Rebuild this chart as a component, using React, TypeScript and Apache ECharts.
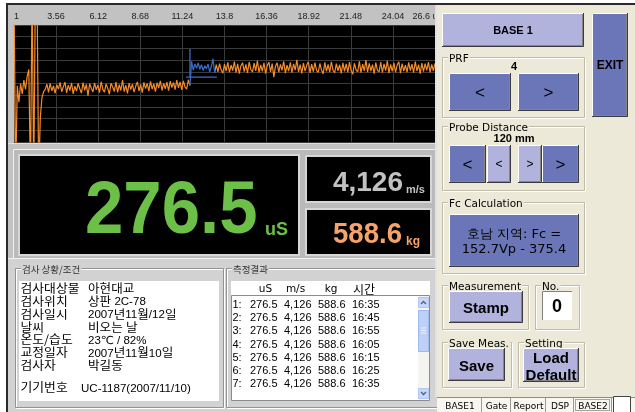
import React, { useEffect, useRef } from 'react';
import * as echarts from 'echarts';

// ---------- data ----------
const TICK_LABELS = ['1', '3.56', '6.12', '8.68', '11.24', '13.8', '16.36', '18.92', '21.48', '24.04', '26.6 uS'];
const TICK_STEP = 2.56;
const T_ORIGIN = 1;
const X_SCALE = 100; // axis works in hundredths of a unit to keep ticks exact
const SAMPLE_STEP = 0.1;

const ORANGE_A_START = 1.0;
const ORANGE_A = [
  13, -3, 4.8, 3.4, 5.0, 4.1, 5.3, 4.5, 5.6, 6.2, -3, 13, -3, 13, 13, -3, 2.1, 3.8, 4.3, 4.5,
  4.95, 4.25, 5.02, 4.38, 4.80, 4.15, 4.90, 4.52, 5.10, 4.30,
  4.71, 5.12, 4.20, 4.86, 4.40, 5.05, 4.12, 4.78, 4.35, 5.00,
  4.55, 4.18, 5.08, 4.42, 4.92, 3.95, 4.98, 4.60, 4.28, 5.06,
  4.45, 4.88, 4.22, 5.15, 4.50, 4.26, 4.96, 4.58, 4.08, 5.03,
  4.70, 4.32, 5.11, 4.24, 4.90, 4.40, 5.30, 4.30, 4.85, 4.16,
  5.04, 4.48, 4.95, 4.26, 4.76, 5.14, 4.36, 4.92, 4.22, 5.09,
  4.56, 5.00, 4.34, 5.18, 4.52, 4.97, 4.30, 5.06, 4.62, 5.22,
  4.40, 5.02, 4.55, 5.12, 4.38, 5.20, 4.66, 5.08, 4.48, 5.28,
  4.62, 5.13, 4.46, 5.22, 4.70, 4.52, 5.32, 4.82,
];
const BLUE_START = 11.7;
const BLUE = [4.82, 6.9, 6.15, 6.68, 6.3, 6.75, 6.22, 6.6, 6.1, 6.52, 6.26, 6.66, 6.0, 6.45, 7.12, 5.92];
const ORANGE_B_START = 13.2;
const ORANGE_B = [
  5.92, 6.62, 6.00, 6.70, 6.15, 5.88, 6.66, 6.05, 6.80, 5.96,
  6.58, 6.10, 6.88, 5.92, 6.68, 5.85, 6.52, 6.78, 6.02, 6.64,
  5.90, 6.84, 6.20, 5.98, 6.74, 6.08, 6.95, 5.94, 6.60, 6.04,
  6.76, 5.84, 6.55, 6.82, 6.00, 6.70, 5.55, 6.48, 6.77, 5.96,
  6.63, 6.12, 6.90, 5.89, 6.57, 6.05, 6.80, 5.93, 6.68, 6.14,
  7.02, 5.98, 6.62, 5.86, 6.74, 6.06, 6.55, 6.85, 5.91, 6.66,
  6.02, 6.78, 6.10, 5.95, 6.71, 6.15, 5.83, 6.80, 6.04, 6.64,
  5.98, 6.86, 6.12, 5.92, 6.70, 6.08, 6.60, 5.87, 6.77, 6.03,
  6.67, 5.95, 6.82, 6.11, 5.80, 6.73, 6.16, 6.00, 6.89, 5.92,
  6.65, 6.08, 7.00, 5.97, 6.72, 6.05, 6.61, 5.85, 6.79, 6.12,
  5.99, 6.83, 5.93, 6.68, 6.10, 6.94, 5.89, 6.63, 6.04, 6.76,
  5.96, 6.58, 6.85, 5.88, 6.70, 6.06, 6.56, 5.98, 6.80, 6.11,
  6.66, 5.92, 6.88, 6.07, 6.62, 5.84, 6.75, 6.01, 6.69, 6.13,
  6.82, 5.95, 6.64, 6.09, 6.72,
];
const GATE_START = 11.46;
const GATE_END = 13.34;
const GATE_LEVEL = 5.55;
const GATE_MARK_T = 11.7;
const GATE_MARK_TOP = 7.95;

const READOUT_VALUES = ['276.5', '4,126', '588.6'];
const READOUT_UNITS = ['uS', 'm/s', 'kg'];

const INFO_LABELS = ['검사대상물', '검사위치', '검사일시', '날씨', '온도/습도', '교정일자', '검사자', '기기번호'];
const INFO_VALUES = ['아현대교', '상판 2C-78', '2007년11월/12일', '비오는 날', '23℃ / 82%', '2007년11월10일', '박길동', 'UC-1187(2007/11/10)'];

const TABLE_HEADERS = ['uS', 'm/s', 'kg', '시간'];
const ROW_US = ['276.5', '276.5', '276.5', '276.5', '276.5', '276.5', '276.5'];
const ROW_MS = ['4,126', '4,126', '4,126', '4,126', '4,126', '4,126', '4,126'];
const ROW_KG = ['588.6', '588.6', '588.6', '588.6', '588.6', '588.6', '588.6'];
const ROW_TIME = ['16:35', '16:45', '16:55', '16:05', '16:15', '16:25', '16:35'];

const PRF_VALUE = '4';
const PROBE_DISTANCE = '120 mm';
const FC_FORMULA = ['호남 지역: Fc =', '152.7Vp - 375.4'];
const STAMP_NO = '0';
const TABS = ['BASE1', 'Gate', 'Report', 'DSP', 'BASE2'];

// ---------- styling helpers ----------
const LAT = '"Liberation Sans", Arial, "DejaVu Sans", sans-serif';
const DJ = '"DejaVu Sans", Verdana, sans-serif';
const KR = '"Noto Sans CJK KR", sans-serif';
const DARK_BTN = '#6a76b8';
const LIGHT_BTN = '#b1b3dc';
const PANEL = '#ece9d8';

const rect = (x: number, y: number, w: number, h: number, fill: any, stroke: any = null, lw = 1) => ({
  type: 'rect', shape: { x, y, width: w, height: h }, style: { fill, stroke, lineWidth: lw },
});
const ln = (x1: number, y1: number, x2: number, y2: number, stroke: string, lw = 1) => ({
  type: 'line', shape: { x1, y1, x2, y2 }, style: { stroke, lineWidth: lw },
});
const poly = (points: number[][], stroke: string, lw = 1) => ({
  type: 'polyline', shape: { points }, style: { stroke, fill: null, lineWidth: lw },
});
const txt = (x: number, y: number, s: string, size: number, o: any = {}) => ({
  type: 'text', x, y, scaleX: o.scaleX ?? 1,
  style: {
    text: s, fill: o.fill ?? '#000', fontSize: size, fontFamily: o.family ?? LAT,
    fontWeight: o.weight ?? 'normal', align: o.align ?? 'left', verticalAlign: o.va ?? 'middle',
    backgroundColor: o.bg, padding: o.pad, rich: o.rich, lineHeight: o.lh,
  },
});

function button(x: number, y: number, w: number, h: number, fill: string) {
  return [
    rect(x, y, w, h, fill),
    poly([[x + 0.5, y + h - 1], [x + 0.5, y + 0.5], [x + w - 1, y + 0.5]], '#ffffff'),
    poly([[x, y + h - 0.5], [x + w - 0.5, y + h - 0.5], [x + w - 0.5, y]], '#3c3c3c'),
    poly([[x + 1, y + h - 1.5], [x + w - 1.5, y + h - 1.5], [x + w - 1.5, y + 1]], '#858585'),
  ];
}

function groupBox(x: number, y: number, w: number, h: number, label: string, bg: string, dark: string, lab: any = {}) {
  return [
    rect(x + 1.5, y + 1.5, w, h, null, '#ffffff'),
    rect(x + 0.5, y + 0.5, w, h, null, dark),
    txt(x + 6, y + 1, label, lab.size ?? 10.5, { family: lab.family ?? DJ, bg, pad: [0, 1], fill: lab.fill ?? '#000', lh: 12 }),
  ];
}

function toRich(s: string) {
  const runs = s.match(/[\uAC00-\uD7A3]+|[^\uAC00-\uD7A3]+/g) || [];
  return runs.map((r) => (/[\uAC00-\uD7A3]/.test(r) ? `{k|${r}}` : `{n|${r}}`)).join('');
}

const toX = (t: number) => Math.round((t - T_ORIGIN) * X_SCALE);
const pts = (start: number, vals: number[]) => vals.map((v, i) => [toX(start + i * SAMPLE_STEP), v]);

function buildOption() {
  const back: any[] = [];
  const front: any[] = [];
  let g = back;
  // page + window frame
  g.push(rect(0, 0, 635, 412, '#ffffff'));
  g.push(rect(7, 4, 430, 408, '#c2c2c2'));
  g.push(rect(6, 3, 629, 2, '#2a2a2a'));
  g.push(rect(6, 3, 2, 409, '#2a2a2a'));
  // plot background
  g.push(rect(14, 25, 421, 117, '#000000'));
  g.push(ln(8, 143.5, 437, 143.5, '#e0e0e0'));

  // readout frame
  g.push(rect(13, 149, 423, 109, '#bababa'));
  g.push(poly([[13.5, 258], [13.5, 149.5], [436, 149.5]], '#f0f0f0'));
  g.push(rect(19, 155, 280, 100, '#000000', '#d6d6d6', 2));
  g.push(rect(306, 156, 125, 46, '#000000', '#d6d6d6', 2));
  g.push(rect(306, 209, 125, 46, '#000000', '#d6d6d6', 2));
  g.push(txt(85, 206.5, READOUT_VALUES[0], 75, { weight: 'bold', fill: '#6cbf47', scaleX: 0.92 }));
  g.push(txt(265, 228.5, READOUT_UNITS[0], 18, { weight: 'bold', fill: '#6cbf47' }));
  g.push(txt(403, 181, READOUT_VALUES[1], 28, { weight: 'bold', fill: '#c2c2c2', align: 'right' }));
  g.push(txt(406, 189, READOUT_UNITS[1], 11, { weight: 'bold', fill: '#c2c2c2' }));
  g.push(txt(402, 233, READOUT_VALUES[2], 30, { weight: 'bold', fill: '#f5a36b', align: 'right', scaleX: 0.92 }));
  g.push(txt(406, 241, READOUT_UNITS[2], 12, { weight: 'bold', fill: '#f5a36b' }));

  // bottom-left section
  g.push(rect(8, 259, 429, 153, '#d2d2d2'));
  g.push(ln(8, 258.5, 437, 258.5, '#f2f2f2'));
  g.push(...groupBox(15, 268, 208, 139, '검사 상황/조건', '#d2d2d2', '#939393', { family: KR, size: 9.5, fill: '#333' }));
  g.push(...groupBox(226, 268, 215, 139, '측정결과', '#d2d2d2', '#939393', { family: KR, size: 9.5, fill: '#333' }));
  g.push(rect(19, 281, 200, 120, '#ffffff'));
  const infoY = [288, 301, 314, 327, 339.5, 352.5, 365, 387.5];
  const rich = {
    k: { fontFamily: KR, fontSize: 12, fill: '#000', verticalAlign: 'bottom', lineHeight: 12 },
    n: { fontFamily: LAT, fontSize: 11, fill: '#000', verticalAlign: 'bottom', lineHeight: 12 },
  };
  INFO_LABELS.forEach((l, i) => {
    g.push(txt(20.5, infoY[i], l, 12, { family: KR, lh: 12, scaleX: 1.07 }));
    g.push(txt(i === 7 ? 81 : 88, infoY[i], toRich(INFO_VALUES[i]), 12, { family: KR, rich, lh: 12, scaleX: 1.05 }));
  });

  // results list
  g.push(rect(231, 281, 199, 14, '#ffffff'));
  const hx = [265.5, 295.5, 331, 364];
  TABLE_HEADERS.forEach((h, i) => {
    const kr = /[\uAC00-\uD7A3]/.test(h);
    g.push(txt(hx[i], 288, h, kr ? 12 : 10.5, { family: kr ? KR : DJ, align: 'center', lh: 12 }));
  });
  g.push(rect(231.5, 295.5, 198, 105, '#ffffff', '#8c8c8c'));
  ROW_US.forEach((_, i) => {
    const y = 304.3 + i * 13.07;
    g.push(txt(232.5, y, `${i + 1}:`, 11, { lh: 12 }));
    g.push(txt(250, y, ROW_US[i], 11, { lh: 12 }));
    g.push(txt(284, y, ROW_MS[i], 11, { lh: 12 }));
    g.push(txt(318, y, ROW_KG[i], 11, { lh: 12 }));
    g.push(txt(352, y, ROW_TIME[i], 11, { lh: 12 }));
  });
  // scrollbar
  g.push(rect(418, 296, 11, 104, '#f4f4f0'));
  g.push(rect(418.5, 297.5, 10, 10, '#c8d7fb', '#b2c6f2'));
  g.push(poly([[421, 304], [423.5, 301.5], [426, 304]], '#4d6185', 1.3));
  g.push(rect(418.5, 310.5, 10, 41, '#bdd0f8', '#9fb8ee'));
  [328, 330.5, 333].forEach((y) => g.push(ln(421, y, 426, y, '#eef3fe')));
  g.push(rect(418.5, 388.5, 10, 10, '#c8d7fb', '#b2c6f2'));
  g.push(poly([[421, 392], [423.5, 394.5], [426, 392]], '#4d6185', 1.3));

  // right panel (drawn above the axis so the last tick label is cut like the reference)
  g = front;
  g.push(rect(437, 5, 198, 393, PANEL));
  g.push(rect(435, 5, 2, 392, '#e2e2e2'));
  g.push(...button(442, 13, 142, 34, LIGHT_BTN));
  g.push(txt(513, 30, 'BASE 1', 11, { weight: 'bold', align: 'center' }));
  g.push(...button(592, 13, 36, 104, DARK_BTN));
  g.push(txt(610, 65, 'EXIT', 12, { weight: 'bold', align: 'center' }));

  const gb = '#bfbbaa';
  g.push(...groupBox(442, 57, 142, 60, 'PRF', PANEL, gb));
  g.push(txt(514, 66, PRF_VALUE, 11, { weight: 'bold', align: 'center' }));
  g.push(...button(449, 73, 62, 38, DARK_BTN));
  g.push(txt(480, 92, '<', 17, { align: 'center' }));
  g.push(...button(518, 73, 61, 38, DARK_BTN));
  g.push(txt(548.5, 92, '>', 17, { align: 'center' }));

  g.push(...groupBox(442, 126, 142, 64, 'Probe Distance', PANEL, gb));
  g.push(txt(514, 138, PROBE_DISTANCE, 11, { weight: 'bold', align: 'center' }));
  g.push(...button(449, 145, 37, 38, DARK_BTN));
  g.push(txt(467.5, 164, '<', 17, { align: 'center' }));
  g.push(...button(487, 145, 24, 38, LIGHT_BTN));
  g.push(txt(499, 164, '<', 12, { align: 'center' }));
  g.push(...button(518, 145, 24, 38, LIGHT_BTN));
  g.push(txt(530, 164, '>', 12, { align: 'center' }));
  g.push(...button(542, 145, 37, 38, DARK_BTN));
  g.push(txt(560.5, 164, '>', 17, { align: 'center' }));

  g.push(...groupBox(442, 202, 142, 71, 'Fc Calculation', PANEL, gb));
  g.push(...button(449, 214, 130, 53, DARK_BTN));
  g.push(txt(514, 233, FC_FORMULA[0], 13, { family: DJ, align: 'center' }));
  g.push(txt(514, 248.5, FC_FORMULA[1], 13, { family: DJ, align: 'center' }));

  g.push(...groupBox(442, 285, 86, 44, 'Measurement', PANEL, gb));
  g.push(...button(449, 291, 74, 32, LIGHT_BTN));
  g.push(txt(486, 307.5, 'Stamp', 15, { weight: 'bold', align: 'center' }));
  g.push(...groupBox(535, 285, 44, 44, 'No.', PANEL, gb));
  g.push(rect(542, 291, 30, 29, '#ffffff'));
  g.push(poly([[542.5, 320], [542.5, 291.5], [572, 291.5]], '#808080'));
  g.push(txt(557, 306, STAMP_NO, 18, { weight: 'bold', align: 'center' }));

  g.push(...groupBox(442, 342, 69, 45, 'Save Meas.', PANEL, gb));
  g.push(...button(448, 348, 57, 33, LIGHT_BTN));
  g.push(txt(476.5, 365, 'Save', 15, { weight: 'bold', align: 'center' }));
  g.push(...groupBox(518, 342, 66, 45, 'Setting', PANEL, gb));
  g.push(...button(523, 348, 56, 34, LIGHT_BTN));
  g.push(txt(551, 357, 'Load', 15, { weight: 'bold', align: 'center', lh: 16 }));
  g.push(txt(551, 374, 'Default', 15, { weight: 'bold', align: 'center', lh: 16 }));

  // tabs
  g.push(rect(437, 397, 198, 15, '#f7f6f1'));
  g.push(ln(437, 397.5, 635, 397.5, '#8c8c8c'));
  const tabEdges = [437, 481, 510, 545, 573, 611];
  tabEdges.slice(1).forEach((x) => g.push(ln(x + 0.5, 398, x + 0.5, 412, '#9a9a9a')));
  TABS.forEach((t, i) => g.push(txt((tabEdges[i] + tabEdges[i + 1]) / 2 + 1, 405.5, t, 9, { family: DJ, align: 'center' })));
  const focus: any = rect(575.5, 399.5, 34, 11, null, '#555555', 1);
  focus.style.lineDash = [1, 1];
  g.push(focus);
  g.push(rect(613.5, 396.5, 17, 16, '#ffffff', '#444444'));

  const graphic = [
    ...back.map((e) => ({ ...e, z: 1, silent: true })),
    ...front.map((e) => ({ ...e, z: 10, silent: true })),
  ];
  const step = Math.round(TICK_STEP * X_SCALE);
  const last = TICK_LABELS.length - 1;

  return {
    animation: false,
    grid: { left: 14, top: 25, width: 421, height: 117, show: false },
    xAxis: {
      type: 'value', position: 'top', min: 0, max: step * 10, interval: step, z: 4,
      axisLine: { show: false }, axisTick: { show: false },
      axisLabel: {
        formatter: (v: number) => {
          const i = Math.round(v / step);
          return i === last ? `{a|${TICK_LABELS[i]}}{p| }` : TICK_LABELS[i] ?? '';
        },
        rich: { a: { fontSize: 9, fontFamily: LAT, color: '#1e1e1e' }, p: { width: 14 } },
        color: '#1e1e1e', fontSize: 9, fontFamily: LAT, margin: 9, verticalAlign: 'middle',
        alignMinLabel: 'left', showMinLabel: true, showMaxLabel: true,
        hideOverlap: false,
      },
      splitLine: { show: true, lineStyle: { color: '#3b3b3b', width: 1 } },
    },
    yAxis: {
      type: 'value', min: 0, max: 10, interval: 1, z: 4,
      axisLine: { show: false }, axisTick: { show: false }, axisLabel: { show: false },
      splitLine: { show: true, lineStyle: { color: '#3b3b3b', width: 1 } },
    },
    series: [
      { type: 'line', z: 5, data: pts(ORANGE_A_START, ORANGE_A), showSymbol: false, symbol: 'none', lineStyle: { color: '#f58c2a', width: 1.2 }, clip: true },
      { type: 'line', z: 5, data: pts(ORANGE_B_START, ORANGE_B), showSymbol: false, symbol: 'none', lineStyle: { color: '#f58c2a', width: 1.2 }, clip: true },
      { type: 'line', z: 6, data: pts(BLUE_START, BLUE), showSymbol: false, symbol: 'none', lineStyle: { color: '#3a6cc8', width: 1.2 }, clip: true },
      { type: 'line', z: 6, data: [[toX(GATE_START), GATE_LEVEL], [toX(GATE_END), GATE_LEVEL]], showSymbol: false, symbol: 'none', lineStyle: { color: '#3a6cc8', width: 1.3 } },
      { type: 'line', z: 6, data: [[toX(GATE_MARK_T), GATE_LEVEL], [toX(GATE_MARK_T), GATE_MARK_TOP]], showSymbol: false, symbol: 'none', lineStyle: { color: '#3a6cc8', width: 1.3 } },
    ],
    graphic: { elements: graphic },
  };
}

export default function App() {
  const ref = useRef<HTMLDivElement>(null);
  useEffect(() => {
    const chart = echarts.init(ref.current!, null, { renderer: 'svg' });
    chart.setOption(buildOption() as any);
    return () => chart.dispose();
  }, []);
  return <div ref={ref} style={{ position: 'fixed', left: 0, top: 0, width: 635, height: 412 }} />;
}
